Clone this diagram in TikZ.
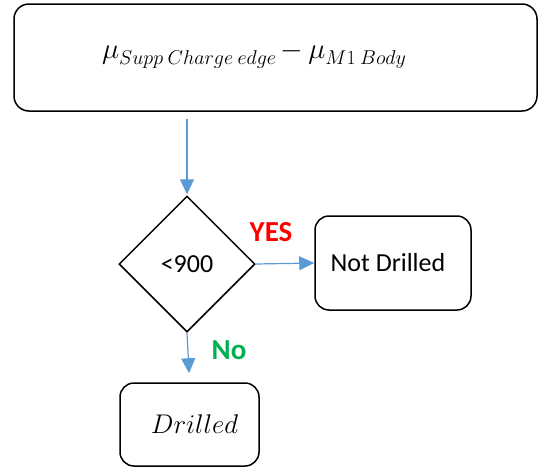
\RequirePackage{fix-cm}
\documentclass[tikz,border=0pt]{standalone}
\usepackage{fontspec}
\setmainfont{Carlito}
\usetikzlibrary{shapes.geometric,arrows.meta}
\definecolor{arrowblue}{RGB}{91,155,213}
\definecolor{yesred}{RGB}{255,0,0}
\definecolor{nogreen}{RGB}{0,176,80}
\newcommand{\mysubtxt}[1]{\raisebox{-6pt}{\fontsize{20}{22}\selectfont$#1$}}
\tikzset{
  rbox/.style={draw=black,line width=1.5pt,rounded corners=15pt,inner sep=0pt},
  dbox/.style={draw=black,line width=1.5pt,diamond,aspect=1,minimum size=136pt,inner sep=0pt},
  conn/.style={draw=arrowblue,line width=1.2pt,-{Triangle[length=15pt,width=14pt]}},
  lbl/.style={font=\fontsize{26}{30}\selectfont},
  ylbl/.style={font=\fontsize{29}{34}\selectfont\bfseries,inner sep=0pt},
}
\begin{document}
\begin{tikzpicture}[x=1pt,y=-1pt]
\useasboundingbox (0,0) rectangle (539,469);
\node[rbox,minimum width=523pt,minimum height=107pt] (top) at (275.5,57.5) {};
\node[font=\fontsize{29}{32}\selectfont] (formula) at (254,55) {$\mu$\mysubtxt{Supp\ Charge\ edge}\,$-\,\mu$\mysubtxt{M1\ Body}};
\node[dbox,lbl] (dia) at (187,264) {<900};
\node[rbox,rounded corners=14pt,minimum width=156pt,minimum height=94pt,lbl] (nd) at (393,263) {Not Drilled\kern10pt};
\node[rbox,rounded corners=14pt,minimum width=139pt,minimum height=83pt,font=\fontsize{27}{32}\selectfont] (dr) at (189.5,424.5) {\kern10pt$Drilled$};
\node[ylbl,text=yesred] (yes) at (271,232) {YES};
\node[ylbl,text=nogreen] (no) at (229,350) {No};
\draw[conn,shorten <=7pt,shorten >=1pt] (dia.north |- top.south) -- (dia.north);
\draw[conn] (dia.east) -- (nd.west);
\draw[conn,shorten >=9pt] (dia.south) -- (dr.north);
\end{tikzpicture}
\end{document}
